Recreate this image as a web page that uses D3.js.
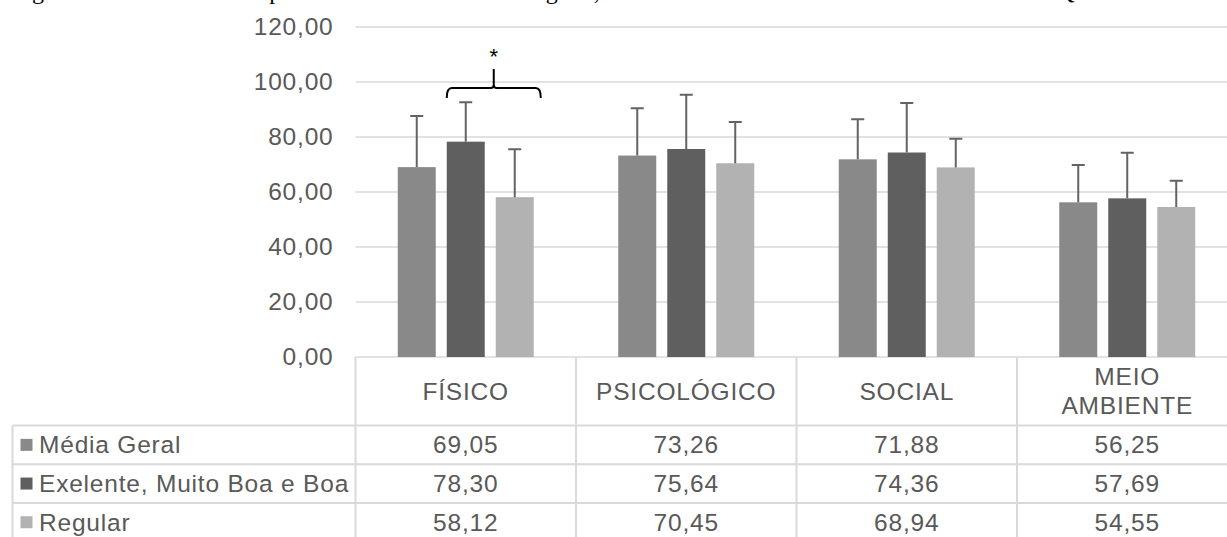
<!DOCTYPE html>
<head>
  <meta charset="utf-8">
  <script src="https://d3js.org/d3.v7.min.js"></script>
  <style>
    body { margin: 0; background: #ffffff; }
    svg { display: block; font-family: "Liberation Sans", Arial, sans-serif; }
    .tick text { fill: #595959; font-size: 24.5px; letter-spacing: 0.8px; }
    .lbl { font-size: 24.5px; letter-spacing: 0.8px; }
  </style>
</head>
<body>
<script>
  // categorias e séries
  var categories = ["FÍSICO", "PSICOLÓGICO", "SOCIAL", "MEIO AMBIENTE"];
  var series = ["Média Geral", "Exelente, Muito Boa e Boa", "Regular"];
  var colors = ["#898989", "#5f5f5f", "#b2b2b2"];

  // médias
  var mediaGeral = [69.05, 73.26, 71.88, 56.25];
  var exelente   = [78.30, 75.64, 74.36, 57.69];
  var regular    = [58.12, 70.45, 68.94, 54.55];

  // desvios padrão
  var dpMedia    = [18.6, 17.2, 14.6, 13.6];
  var dpExelente = [14.3, 19.7, 18.0, 16.6];
  var dpRegular  = [17.4, 15.0, 10.4, 9.5];

  var yTicks = [0, 20, 40, 60, 80, 100, 120];

  var values = [mediaGeral, exelente, regular];
  var desvios = [dpMedia, dpExelente, dpRegular];

  var w = 1227, h = 537;
  var textColor = "#595959", lineColor = "#d9d9d9";
  var fmt = function(d) { return d3.format(".2f")(d).replace(".", ","); };

  var svg = d3.select("body").append("svg")
    .attr("width", w)
    .attr("height", h);

  // título (cortado no topo da imagem)
  svg.append("text")
    .attr("x", 12)
    .attr("y", -1)
    .style("font-family", "'Liberation Serif', 'Times New Roman', serif")
    .style("font-size", "24px")
    .attr("fill", "#000")
    .text("Figura 3 – Média e desvio padrão dos escores de saúde geral, obtidos através da escala do instrumento WHOQOL-bref");

  var x = d3.scaleBand()
    .domain(categories)
    .range([355.5, 355.5 + 4 * 220.5]);

  var xSub = d3.scaleBand()
    .domain(series)
    .range([-68, 68])
    .paddingInner(0.2245);

  var y = d3.scaleLinear()
    .domain([0, 120])
    .range([357, 27]);

  // linhas de grade
  svg.append("g").selectAll("line")
    .data(yTicks)
    .enter().append("line")
    .attr("x1", 355.5).attr("x2", w)
    .attr("y1", function(d) { return y(d); })
    .attr("y2", function(d) { return y(d); })
    .attr("stroke", lineColor)
    .attr("stroke-width", 1.5);

  // eixo y
  var yAxis = svg.append("g")
    .attr("transform", "translate(355.5,0)")
    .call(d3.axisLeft(y)
      .tickValues(yTicks)
      .tickSize(0)
      .tickPadding(22)
      .tickFormat(fmt));
  yAxis.select(".domain").remove();

  // barras
  series.forEach(function(s, i) {
    var g = svg.append("g");
    g.selectAll("rect")
      .data(categories)
      .enter().append("rect")
      .attr("x", function(c) { return x(c) + x.bandwidth() / 2 + xSub(s); })
      .attr("width", xSub.bandwidth())
      .attr("y", function(c, j) { return y(values[i][j]); })
      .attr("height", function(c, j) { return y(0) - y(values[i][j]); })
      .attr("fill", colors[i]);

    // barras de erro (só para cima)
    g.selectAll("path")
      .data(categories)
      .enter().append("path")
      .attr("d", function(c, j) {
        var cx = x(c) + x.bandwidth() / 2 + xSub(s) + xSub.bandwidth() / 2;
        var top = y(values[i][j] + desvios[i][j]);
        return "M" + cx + "," + y(values[i][j]) + "V" + top +
               "M" + (cx - 6.5) + "," + top + "H" + (cx + 6.5);
      })
      .attr("fill", "none")
      .attr("stroke", "#636363")
      .attr("stroke-width", 2);
  });

  // chave de significância (FÍSICO: Exelente vs Regular)
  var bx0 = x("FÍSICO") + x.bandwidth() / 2 + xSub(series[1]);
  var bx1 = x("FÍSICO") + x.bandwidth() / 2 + xSub(series[2]) + xSub.bandwidth() + 7;
  var bm = (bx0 + bx1) / 2;
  var yb = y(97.8), ye = y(94.2), yt = y(104.7);
  svg.append("path")
    .attr("d", "M" + bx0 + "," + ye + "Q" + bx0 + "," + yb + " " + (bx0 + 5) + "," + yb +
               "H" + (bm - 3) + "Q" + bm + "," + yb + " " + bm + "," + (yb - 3) + "V" + yt +
               "M" + bm + "," + (yb - 3) + "Q" + bm + "," + yb + " " + (bm + 3) + "," + yb +
               "H" + (bx1 - 5) + "Q" + bx1 + "," + yb + " " + bx1 + "," + ye)
    .attr("fill", "none")
    .attr("stroke", "#000")
    .attr("stroke-width", 2);
  svg.append("text")
    .attr("x", bm)
    .attr("y", y(106.5))
    .attr("text-anchor", "middle")
    .style("font-size", "22px")
    .attr("fill", "#000")
    .text("*");

  // tabela de dados
  var headerBottom = 425.5;
  var rowH = 38.7;
  var tableLeft = 12.5;
  var table = svg.append("g");

  // linhas verticais das colunas
  var colEdges = categories.map(function(c) { return x(c); }).concat([x.range()[1]]);
  table.selectAll(".vline")
    .data(colEdges)
    .enter().append("line")
    .attr("x1", function(d) { return d; }).attr("x2", function(d) { return d; })
    .attr("y1", y(0)).attr("y2", h)
    .attr("stroke", lineColor).attr("stroke-width", 2);

  table.append("line")
    .attr("x1", tableLeft).attr("x2", tableLeft)
    .attr("y1", headerBottom).attr("y2", h)
    .attr("stroke", lineColor).attr("stroke-width", 2);

  // linhas horizontais
  table.selectAll(".hline")
    .data(series)
    .enter().append("line")
    .attr("x1", tableLeft).attr("x2", w)
    .attr("y1", function(d, i) { return headerBottom + i * rowH; })
    .attr("y2", function(d, i) { return headerBottom + i * rowH; })
    .attr("stroke", lineColor).attr("stroke-width", 2);

  // cabeçalhos das categorias
  table.selectAll(".cat")
    .data(categories)
    .enter().append("text")
    .attr("class", "lbl")
    .attr("text-anchor", "middle")
    .attr("fill", textColor)
    .each(function(c) {
      var words = c.split(" ");
      var t = d3.select(this);
      var cy = (y(0) + headerBottom) / 2;
      words.forEach(function(wd, k) {
        t.append("tspan")
          .attr("x", x(c) + x.bandwidth() / 2)
          .attr("y", cy + 8.5 + (k - (words.length - 1) / 2) * 29)
          .text(wd);
      });
    });

  // linhas da tabela: legenda + valores
  series.forEach(function(s, i) {
    var cy = headerBottom + i * rowH + rowH / 2;
    table.append("rect")
      .attr("x", 20.5).attr("y", cy - 6)
      .attr("width", 12).attr("height", 12)
      .attr("fill", colors[i]);
    table.append("text")
      .attr("class", "lbl")
      .attr("x", 39).attr("y", cy + 8.5)
      .attr("fill", textColor)
      .text(s);
    table.selectAll(".v" + i)
      .data(categories)
      .enter().append("text")
      .attr("class", "lbl")
      .attr("x", function(c) { return x(c) + x.bandwidth() / 2; })
      .attr("y", cy + 8.5)
      .attr("text-anchor", "middle")
      .attr("fill", textColor)
      .text(function(c, j) { return fmt(values[i][j]); });
  });
</script>
</body>
